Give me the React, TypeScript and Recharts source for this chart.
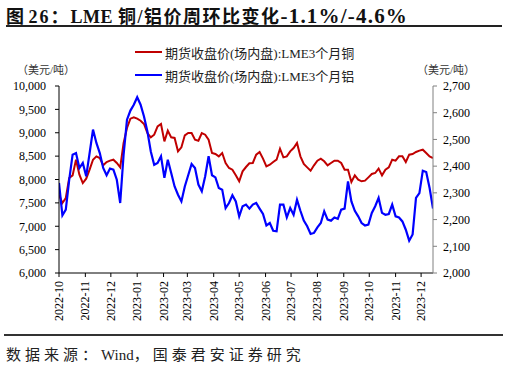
import { LineChart, Line, XAxis, YAxis } from "recharts";

// month tick labels on the date axis
const monthLabels = [
  "2022-10", "2022-11", "2022-12", "2023-01", "2023-02", "2023-03", "2023-04", "2023-05",
  "2023-06", "2023-07", "2023-08", "2023-09", "2023-10", "2023-11", "2023-12",
];

// LME 3M copper, USD/t, one reading every 4 days from 2022-10-01
const copper = [
  7675, 7497, 7604, 8032, 8089, 8424, 8103, 7925, 8018, 8210, 8424, 8495, 8460, 8303,
  8374, 8403, 8424, 8353, 8260, 8781, 9101, 9301, 9330, 9301, 9258, 9187, 8994, 8902,
  8959, 9137, 9187, 8816, 9044, 8902, 8888, 8602, 8688, 8945, 8994, 8994, 8852, 8830,
  8994, 8959, 8852, 8567, 8545, 8495, 8567, 8353, 8246, 8210, 8089, 7961, 8175,
  8267, 8346, 8353, 8531, 8588, 8446, 8281, 8317, 8374, 8424, 8659, 8474, 8495, 8602,
  8674, 8781, 8495, 8331, 8260, 8189, 8303, 8403, 8446, 8389, 8303, 8353, 8403,
  8403, 8353, 8210, 8210, 7946, 8089, 7996, 7961, 7975, 8046, 8118, 8139, 8232, 8089,
  8210, 8260, 8424, 8403, 8495, 8495, 8374, 8531, 8545, 8588, 8617, 8638, 8567, 8495, 8460,
];

// LME 3M aluminium, USD/t, same dates
const aluminum = [
  2337, 2216, 2237, 2349, 2443, 2449, 2393, 2412, 2362, 2449, 2537, 2487, 2449, 2393,
  2366, 2391, 2387, 2349, 2262, 2443, 2574, 2608, 2630, 2658, 2630, 2586, 2530, 2455,
  2405, 2412, 2437, 2356, 2424, 2374, 2324, 2293, 2268, 2324, 2366, 2408, 2393, 2331,
  2306, 2362, 2437, 2366, 2358, 2318, 2312, 2243, 2262, 2291, 2268, 2212, 2250,
  2256, 2241, 2256, 2262, 2241, 2221, 2178, 2187, 2158, 2156, 2256, 2256, 2208, 2243,
  2218, 2274, 2233, 2196, 2175, 2146, 2150, 2171, 2187, 2231, 2200, 2196, 2208,
  2203, 2237, 2241, 2343, 2268, 2233, 2212, 2187, 2178, 2181, 2225, 2250, 2281, 2225,
  2218, 2221, 2256, 2212, 2208, 2193, 2162, 2121, 2144, 2281, 2299, 2383, 2378, 2318, 2241,
];

const leftTicks = [6000, 6500, 7000, 7500, 8000, 8500, 9000, 9500, 10000];
const rightTicks = [2000, 2100, 2200, 2300, 2400, 2500, 2600, 2700];

const DAY = 86400000;
const START = Date.UTC(2022, 9, 1);
const END = START + 440 * DAY;
const dates = copper.map((_, i) => START + i * 4 * DAY);

const monthTicks = monthLabels.map((m) => {
  const [y, mo] = m.split("-").map(Number);
  return Date.UTC(y, mo - 1, 1);
});

const data = dates.map((t, i) => ({ t, copper: copper[i], aluminum: aluminum[i] }));

const SERIF = '"Liberation Serif", "Noto Sans CJK SC", serif';
const fmt = (v: number) => v.toLocaleString("en-US");

function XTick({ x, y, payload }: any) {
  const d = new Date(payload.value);
  const label = `${d.getUTCFullYear()}-${String(d.getUTCMonth() + 1).padStart(2, "0")}`;
  const ay = y + 2;
  return (
    <text
      x={x}
      y={ay}
      transform={`rotate(-90 ${x} ${ay})`}
      textAnchor="end"
      dominantBaseline="central"
      fontSize={12}
      fontFamily={SERIF}
      fill="#000"
    >
      {label}
    </text>
  );
}

function LegendRow({ color, text, top }: { color: string; text: string; top: number }) {
  return (
    <div style={{ position: "absolute", left: 135, top, height: 16, display: "flex", alignItems: "center" }}>
      <div style={{ width: 27, height: 2, background: color, marginRight: 3 }} />
      <span style={{ fontSize: 13, fontFamily: SERIF, color: "#222", whiteSpace: "nowrap" }}>{text}</span>
    </div>
  );
}

export default function App() {
  return (
    <div style={{ position: "absolute", left: 0, top: 0, width: 507, height: 366, background: "#fff", fontFamily: SERIF }}>
      <div
        style={{
          position: "absolute", left: 6, top: 2, fontSize: 18, fontWeight: "bold",
          whiteSpace: "nowrap", color: "#111",
        }}
      >
        <span>图 </span>
        <span style={{ letterSpacing: 2 }}>26：</span>
        <span style={{ letterSpacing: 0.5 }}>LME </span>
        <span style={{ letterSpacing: 1.5 }}>铜/铝价周环比变化</span>
        <span style={{ fontSize: 21, letterSpacing: 1.2 }}>-1.1%/-4.6%</span>
      </div>
      <div style={{ position: "absolute", left: 6, top: 25, width: 496, height: 1.5, background: "#222" }} />

      <div style={{ position: "absolute", left: 17, top: 61, fontSize: 11, color: "#333", whiteSpace: "nowrap" }}>（美元/吨）</div>
      <div style={{ position: "absolute", left: 417, top: 61, fontSize: 11, color: "#333", whiteSpace: "nowrap" }}>（美元/吨）</div>

      <LegendRow color="#C00000" text="期货收盘价(场内盘):LME3个月铜" top={44} />
      <LegendRow color="#0000FF" text="期货收盘价(场内盘):LME3个月铝" top={67} />

      <div style={{ position: "absolute", left: 0, top: 0 }}>
        <LineChart width={507} height={366} data={data} margin={{ top: 86, right: 0, bottom: 43, left: 0 }}>
          <XAxis
            dataKey="t"
            type="number"
            domain={[START, END]}
            ticks={monthTicks}
            interval={0}
            tick={<XTick />}
            tickSize={4}
            height={50}
            stroke="#000"
            allowDataOverflow
          />
          <YAxis
            yAxisId="l"
            domain={[6000, 10000]}
            ticks={leftTicks}
            interval={0}
            tickFormatter={fmt}
            width={59}
            tickSize={4}
            tickMargin={9}
            stroke="#000"
            tick={{ fill: "#000", fontSize: 12, fontFamily: SERIF }}
          />
          <YAxis
            yAxisId="r"
            orientation="right"
            domain={[2000, 2700]}
            ticks={rightTicks}
            interval={0}
            tickFormatter={fmt}
            width={74}
            tickSize={4}
            tickMargin={6}
            stroke="#808080"
            tick={{ fill: "#000", fontSize: 12, fontFamily: SERIF }}
          />
          <Line yAxisId="l" type="linear" dataKey="copper" stroke="#C00000" strokeWidth={2} dot={false} isAnimationActive={false} />
          <Line yAxisId="r" type="linear" dataKey="aluminum" stroke="#0000FF" strokeWidth={2.2} dot={false} isAnimationActive={false} />
        </LineChart>
      </div>

      <div style={{ position: "absolute", left: 4, top: 334, width: 499, height: 2, background: "#333" }} />
      <div style={{ position: "absolute", left: 6, top: 343, fontSize: 15, color: "#222", whiteSpace: "nowrap" }}>
        <span style={{ letterSpacing: 4 }}>数据来源：</span>
        <span>Wind</span>
        <span style={{ letterSpacing: 4 }}>，国泰君安证券研究</span>
      </div>
    </div>
  );
}
